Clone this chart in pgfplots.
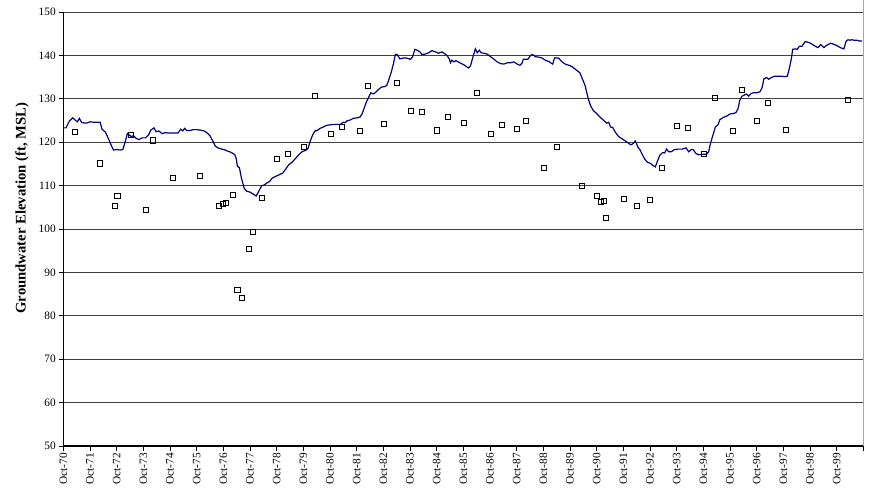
\documentclass[border=0pt]{standalone}
\usepackage{pgfplots}
\pgfplotsset{compat=1.18}
\usepackage{pgfplotstable}
\usepackage{fontspec}
\setmainfont{Liberation Serif}
\definecolor{wlnavy}{HTML}{000080}
\definecolor{gridgray}{HTML}{404040}

\pgfplotstableread{
x y
0.00 123.3
0.10 123.3
0.23 124.9
0.35 125.6
0.48 124.9
0.53 124.7
0.60 125.5
0.68 124.6
0.78 124.4
0.88 124.4
1.00 124.7
1.13 124.6
1.25 124.6
1.38 124.6
1.45 123.0
1.58 122.3
1.70 120.7
1.78 119.5
1.88 118.2
2.00 118.3
2.13 118.2
2.23 118.3
2.33 120.3
2.40 122.0
2.48 121.6
2.55 121.3
2.63 121.5
2.73 120.9
2.83 120.6
2.95 121.0
3.08 121.0
3.20 121.7
3.28 122.8
3.40 123.3
3.48 122.4
3.58 122.6
3.70 122.0
3.83 122.2
3.95 122.1
4.13 122.1
4.30 122.1
4.40 123.0
4.48 122.6
4.55 123.2
4.63 122.7
4.75 122.7
4.88 122.9
5.00 122.9
5.13 122.8
5.28 122.6
5.40 122.1
5.50 121.5
5.60 120.3
5.70 119.1
5.83 118.6
5.95 118.4
6.08 118.2
6.13 118.0
6.28 117.7
6.43 117.1
6.48 116.3
6.53 114.4
6.60 114.2
6.68 111.7
6.78 109.4
6.88 108.7
7.00 108.5
7.13 108.0
7.23 107.6
7.33 108.7
7.43 109.9
7.55 110.2
7.63 110.6
7.73 110.9
7.83 111.7
7.95 112.1
8.10 112.5
8.23 112.9
8.35 113.9
8.45 114.8
8.58 115.4
8.70 116.2
8.83 117.1
8.95 117.8
9.08 118.1
9.18 118.6
9.25 120.1
9.35 121.7
9.45 122.7
9.50 122.6
9.63 123.2
9.75 123.5
9.88 123.9
10.13 124.1
10.38 124.1
10.50 124.6
10.57 124.5
10.63 124.9
10.75 125.1
10.88 125.5
11.00 125.6
11.13 125.8
11.20 126.5
11.28 127.8
11.35 129.1
11.43 130.1
11.53 131.4
11.63 131.1
11.73 131.6
11.83 132.2
11.93 132.7
12.05 132.8
12.13 133.1
12.20 134.3
12.30 136.2
12.38 138.1
12.45 140.2
12.52 140.2
12.62 139.2
12.75 139.4
12.87 139.4
13.02 139.1
13.10 139.7
13.18 141.4
13.27 141.2
13.37 140.8
13.45 140.2
13.57 140.3
13.70 140.6
13.82 141.1
13.95 140.8
14.07 140.5
14.20 140.8
14.32 140.3
14.40 139.9
14.47 139.2
14.52 138.3
14.57 138.9
14.65 138.5
14.72 138.8
14.87 138.3
15.00 137.9
15.12 137.4
15.20 137.1
15.27 137.6
15.35 139.4
15.45 141.5
15.52 140.6
15.60 141.2
15.67 140.6
15.77 140.5
15.90 140.3
16.02 139.7
16.15 139.1
16.27 138.5
16.40 138.1
16.52 138.0
16.65 138.3
16.77 138.3
16.90 138.5
17.02 138.0
17.12 137.7
17.20 138.2
17.25 139.1
17.42 139.1
17.52 140.0
17.60 140.2
17.70 139.7
17.82 139.6
17.95 139.4
18.07 138.9
18.20 138.6
18.35 138.0
18.42 139.4
18.57 139.4
18.70 138.5
18.82 138.0
18.97 137.7
19.10 137.3
19.22 136.7
19.37 136.0
19.47 134.5
19.57 133.0
19.62 131.6
19.70 129.7
19.77 128.4
19.87 127.3
20.00 126.6
20.12 125.8
20.25 125.1
20.37 124.4
20.45 124.6
20.52 123.5
20.60 123.4
20.70 122.3
20.82 121.3
20.95 120.8
21.07 120.3
21.17 119.9
21.27 119.4
21.35 119.6
21.45 120.3
21.55 118.8
21.62 118.3
21.70 117.3
21.80 116.1
21.90 115.4
22.02 115.1
22.12 114.6
22.20 114.3
22.27 115.5
22.37 117.0
22.47 117.6
22.55 117.5
22.62 118.4
22.70 117.8
22.80 117.8
22.92 118.3
23.05 118.4
23.20 118.4
23.35 118.7
23.45 117.8
23.55 118.3
23.62 118.3
23.72 117.4
23.82 117.1
23.95 117.2
24.12 117.2
24.20 117.8
24.27 119.8
24.37 121.8
24.45 123.5
24.55 124.0
24.62 125.2
24.75 125.7
24.87 126.0
25.00 126.5
25.12 126.6
25.22 126.8
25.30 127.7
25.37 129.7
25.45 130.6
25.55 130.9
25.62 131.1
25.70 130.6
25.77 131.1
25.87 131.4
26.00 131.4
26.12 131.6
26.20 132.5
26.27 134.6
26.37 134.9
26.45 134.5
26.55 134.9
26.67 135.2
26.80 135.2
26.92 135.2
27.05 135.1
27.15 135.2
27.22 136.9
27.30 139.2
27.35 141.4
27.45 141.5
27.52 141.4
27.60 142.1
27.70 142.1
27.82 143.2
27.95 143.0
28.07 142.6
28.20 142.1
28.30 141.8
28.40 142.5
28.52 141.8
28.62 142.3
28.77 142.8
28.92 142.5
29.05 142.1
29.17 141.7
29.27 141.5
29.35 143.2
29.42 143.6
29.50 143.5
29.57 143.6
29.65 143.5
29.75 143.5
29.87 143.3
29.95 143.3
}\levels

\pgfplotstableread{
x y
0.45 122.3
1.36 115.1
2.03 107.7
1.95 105.2
2.53 121.7
3.11 104.4
3.37 120.4
4.11 111.7
5.11 112.2
5.85 105.4
6.00 105.7
6.11 106.0
6.36 107.9
6.53 86.0
6.69 84.1
6.95 95.5
7.11 99.3
7.45 107.1
8.02 116.2
8.44 117.3
9.03 118.8
9.45 130.7
10.03 122.0
10.45 123.6
11.11 122.5
11.44 132.9
12.02 124.3
12.52 133.6
13.03 127.2
13.44 127.0
14.02 122.7
14.44 125.9
15.02 124.5
15.52 131.4
16.03 122.0
16.45 123.9
17.02 123.0
17.35 124.9
18.02 114.0
18.52 119.0
19.44 110.0
20.02 107.7
20.17 106.2
20.27 106.4
20.36 102.6
21.02 106.9
21.52 105.2
22.01 106.7
22.44 114.0
23.02 123.7
23.44 123.2
24.01 117.2
24.44 130.1
25.10 122.5
25.44 132.0
26.02 124.9
26.44 129.1
27.10 122.9
29.43 129.7
}\obs

\begin{document}
\begin{tikzpicture}
\path[use as bounding box] (-47.5pt,-36.75pt) rectangle (606.5pt,334.5pt);
\begin{axis}[
  scale only axis,
  width=600pt, height=325.5pt,
  at={(0,0)}, anchor=south west,
  xmin=0, xmax=30, ymin=50, ymax=150,
  axis x line*=bottom, axis y line*=left,
  axis line style={black, line width=0.9pt},
  xtick={0,1,...,30},
  xticklabels={Oct-70,Oct-71,Oct-72,Oct-73,Oct-74,Oct-75,Oct-76,Oct-77,Oct-78,Oct-79,Oct-80,Oct-81,Oct-82,Oct-83,Oct-84,Oct-85,Oct-86,Oct-87,Oct-88,Oct-89,Oct-90,Oct-91,Oct-92,Oct-93,Oct-94,Oct-95,Oct-96,Oct-97,Oct-98,Oct-99,{}},
  ytick={50,60,...,150},
  tick align=outside,
  major tick length=3.5pt,
  tick style={black, line width=0.6pt},
  ymajorgrids,
  grid style={gridgray, line width=0.6pt},
  xticklabel style={rotate=90, anchor=east, font=\fontsize{8.5}{9}\selectfont, inner sep=1.5pt},
  yticklabel style={font=\fontsize{8.5}{9}\selectfont, inner sep=2pt},
  /pgf/number format/assume math mode=true,
  ylabel={\textbf{Groundwater Elevation (ft, MSL)}},
  ylabel style={at={(axis description cs:-0.0517,0.548)}, anchor=center, rotate=0, font=\fontsize{11}{12}\selectfont},
  clip=false,
]
\addplot[wlnavy, line width=0.9pt, mark=none] table[x=x,y=y] {\levels};
\addplot[only marks, mark=square, mark size=1.9pt, mark options={black, line width=0.7pt, fill=white}] table[x=x,y=y] {\obs};
\draw[gray!70, line width=1.2pt] (rel axis cs:1,0) -- (rel axis cs:1,1.03);
\end{axis}
\end{tikzpicture}
\end{document}
